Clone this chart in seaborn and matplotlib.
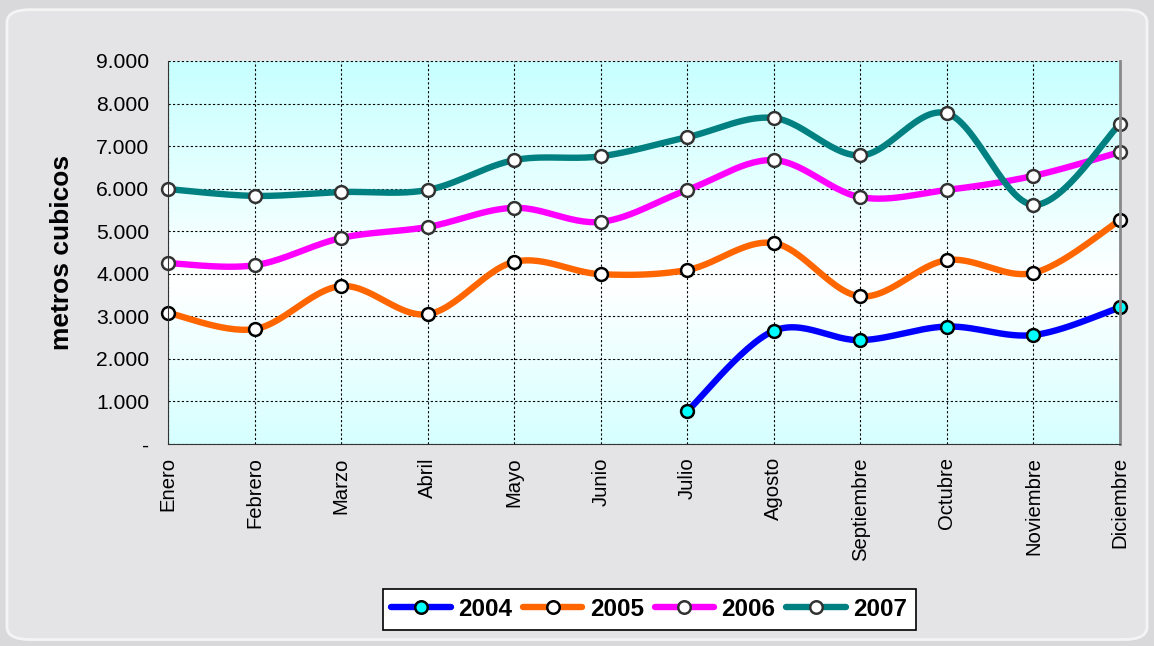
import numpy as np
import pandas as pd
import matplotlib
matplotlib.use('Agg')
import matplotlib.pyplot as plt
import seaborn as sns
from matplotlib.patches import FancyBboxPatch
from matplotlib.lines import Line2D

# datos (metros cubicos por mes)
meses = ['Enero', 'Febrero', 'Marzo', 'Abril', 'Mayo', 'Junio', 'Julio',
         'Agosto', 'Septiembre', 'Octubre', 'Noviembre', 'Diciembre']
v2004 = [np.nan, np.nan, np.nan, np.nan, np.nan, np.nan, 770, 2660, 2440, 2760, 2560, 3210]
v2005 = [3080, 2700, 3710, 3050, 4280, 3990, 4090, 4720, 3470, 4320, 4020, 5260]
v2006 = [4250, 4200, 4840, 5100, 5550, 5220, 5970, 6670, 5800, 5970, 6300, 6860]
v2007 = [5990, 5830, 5920, 5970, 6670, 6760, 7210, 7660, 6780, 7770, 5620, 7520]
anios = ['2004', '2005', '2006', '2007']
colores = ['#0000ff', '#ff6600', '#ff00ff', '#008080']
caras = ['#00ffff', 'white', 'white', 'white']
bordes = ['black', 'black', '#333333', '#333333']

sns.set_style('white')
plt.rcParams['font.family'] = ['Liberation Sans', 'DejaVu Sans']
plt.rcParams['text.color'] = 'black'
plt.rcParams['xtick.color'] = 'black'
plt.rcParams['ytick.color'] = 'black'
plt.rcParams['axes.labelcolor'] = 'black'

df = pd.DataFrame({'mes': meses, '2004': v2004, '2005': v2005, '2006': v2006, '2007': v2007})
df['x'] = np.arange(len(meses))
largo = df.melt(id_vars=['mes', 'x'], value_vars=anios, var_name='anio', value_name='m3').dropna()


def suavizar(x, y, n=30):
    # curva tipo Catmull-Rom (linea suavizada como en Excel)
    x = np.asarray(x, float)
    y = np.asarray(y, float)
    px = np.concatenate([[x[0]], x, [x[-1]]])
    py = np.concatenate([[y[0]], y, [y[-1]]])
    xs, ys = [], []
    t = np.linspace(0, 1, n)
    for i in range(1, len(px) - 2):
        p0, p1, p2, p3 = [np.array([px[j], py[j]]) for j in (i - 1, i, i + 1, i + 2)]
        c1 = p1 + (p2 - p0) / 6
        c2 = p2 - (p3 - p1) / 6
        pts = ((1 - t) ** 3)[:, None] * p1 + (3 * (1 - t) ** 2 * t)[:, None] * c1 \
            + (3 * (1 - t) * t ** 2)[:, None] * c2 + (t ** 3)[:, None] * p2
        xs.append(pts[:, 0])
        ys.append(pts[:, 1])
    return np.concatenate(xs), np.concatenate(ys)


fig = plt.figure(figsize=(11.54, 6.46), dpi=100)
fig.patch.set_facecolor('#d9d9dc')
marco = FancyBboxPatch((0.006, 0.01), 0.988, 0.975, boxstyle='round,pad=0,rounding_size=0.02',
                       transform=fig.transFigure, facecolor='#e4e4e7', edgecolor='#f4f4f4',
                       linewidth=2, zorder=-5)
fig.patches.append(marco)

ax = fig.add_axes([0.1456, 0.3127, 0.8249, 0.5929])
ax.set_zorder(2)

# fondo degradado celeste-blanco-celeste
f = np.linspace(0, 1, 200)
peso = np.clip(np.abs(f - 0.42) / 0.58, 0, 1)
cian = np.array([0.78, 1.0, 1.0])
grad = (1 - peso)[:, None] * np.array([1.0, 1.0, 1.0]) + peso[:, None] * cian
ax.imshow(grad[::-1][:, None, :], extent=[0, 1, 0, 1], transform=ax.transAxes,
          aspect='auto', zorder=0)

for anio, col in zip(anios, colores):
    d = df[['x', anio]].dropna()
    xs, ys = suavizar(d['x'], d[anio])
    ax.plot(xs, ys, color=col, linewidth=4.6, solid_capstyle='round', zorder=3)

for anio, cara, borde in zip(anios, caras, bordes):
    sns.scatterplot(data=largo[largo['anio'] == anio], x='x', y='m3', ax=ax,
                    color=cara, edgecolor=borde, linewidth=1.8, s=85, zorder=4,
                    legend=False, clip_on=False)

ax.set_xlim(0, 11)
ax.set_ylim(0, 9000)
ax.set_xticks(df['x'])
ax.set_xticklabels(meses, rotation=90, fontsize=14.6)
ax.set_yticks(np.arange(0, 9001, 1000))
ax.set_yticklabels(['-'] + [f'{v:,}'.replace(',', '.') for v in range(1000, 9001, 1000)], fontsize=15.2)
ax.set_xlabel('')
ax.set_ylabel('metros cubicos', fontsize=19, fontweight='bold', labelpad=16)
ax.grid(True, color='black', linestyle=(0, (2, 2)), linewidth=0.8, zorder=1)
ax.set_axisbelow(False)
for l in ax.get_xgridlines() + ax.get_ygridlines():
    l.set_zorder(1)
ax.tick_params(axis='both', direction='inout', length=9, width=1, color='black')
ax.tick_params(axis='x', pad=5)
ax.tick_params(axis='y', pad=9)
ax.spines['top'].set_visible(False)
ax.spines['left'].set_color('#333333')
ax.spines['bottom'].set_color('#333333')
ax.spines['right'].set_color('#888888')
ax.spines['right'].set_linewidth(2)
for s in ax.spines.values():
    s.set_zorder(5)

manijas = [Line2D([0], [0], color=c, linewidth=4.6, solid_capstyle='round', marker='o',
                  markersize=9, markerfacecolor=fc, markeredgecolor=ec, markeredgewidth=1.8)
           for c, fc, ec in zip(colores, caras, bordes)]
leg = fig.legend(manijas, anios, loc='center', bbox_to_anchor=(0.5625, 0.0565), ncol=4,
                 frameon=True, fancybox=False, edgecolor='black', facecolor='white', framealpha=1,
                 prop={'weight': 'bold', 'size': 17.5}, handlelength=2.45, handletextpad=0.3,
                 columnspacing=0.45, borderpad=0.35)
leg.get_frame().set_linewidth(1.2)
for t in leg.get_texts():
    t.set_color('black')

fig.savefig('out.png', dpi=100, facecolor=fig.get_facecolor())
